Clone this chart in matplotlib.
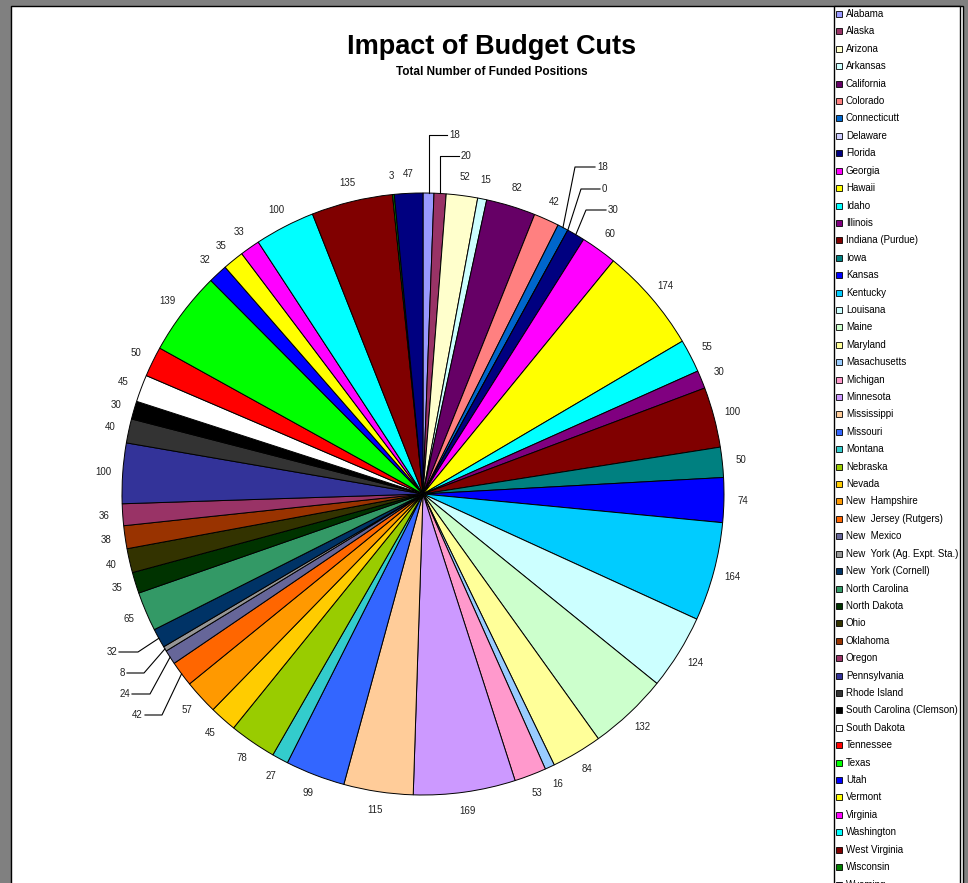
import numpy as np
import matplotlib
matplotlib.use('Agg')
import matplotlib.pyplot as plt
from matplotlib.patches import Rectangle

plt.rcParams['font.family'] = ['Liberation Sans', 'DejaVu Sans']

states = ['Alabama', 'Alaska', 'Arizona', 'Arkansas', 'California', 'Colorado',
          'Connecticutt', 'Delaware', 'Florida', 'Georgia', 'Hawaii', 'Idaho',
          'Illinois', 'Indiana (Purdue)', 'Iowa', 'Kansas', 'Kentucky', 'Louisana',
          'Maine', 'Maryland', 'Masachusetts', 'Michigan', 'Minnesota', 'Mississippi',
          'Missouri', 'Montana', 'Nebraska', 'Nevada', 'New  Hampshire',
          'New  Jersey (Rutgers)', 'New  Mexico', 'New  York (Ag. Expt. Sta.)',
          'New  York (Cornell)', 'North Carolina', 'North Dakota', 'Ohio', 'Oklahoma',
          'Oregon', 'Pennsylvania', 'Rhode Island', 'South Carolina (Clemson)',
          'South Dakota', 'Tennessee', 'Texas', 'Utah', 'Vermont', 'Virginia',
          'Washington', 'West Virginia', 'Wisconsin', 'Wyoming']

positions = [18, 20, 52, 15, 82, 42, 18, 0, 30, 60, 174, 55, 30, 100, 50, 74, 164,
             124, 132, 84, 16, 53, 169, 115, 99, 27, 78, 45, 57, 42, 24, 8, 32, 65,
             35, 40, 38, 36, 100, 40, 30, 45, 50, 139, 32, 35, 33, 100, 135, 3, 47]

colors = ['#9999FF', '#993366', '#FFFFCC', '#CCFFFF', '#660066', '#FF8080',
          '#0066CC', '#CCCCFF', '#000080', '#FF00FF', '#FFFF00', '#00FFFF',
          '#800080', '#800000', '#008080', '#0000FF', '#00CCFF', '#CCFFFF',
          '#CCFFCC', '#FFFF99', '#99CCFF', '#FF99CC', '#CC99FF', '#FFCC99',
          '#3366FF', '#33CCCC', '#99CC00', '#FFCC00', '#FF9900', '#FF6600',
          '#666699', '#969696', '#003366', '#339966', '#003300', '#333300',
          '#993300', '#993366', '#333399', '#333333', '#000000', '#FFFFFF',
          '#FF0000', '#00FF00', '#0000FF', '#FFFF00', '#FF00FF', '#00FFFF',
          '#800000', '#008000', '#000080']

# labels that Excel moved off the pie with a leader line: (elbow px, text px, side)
leaders = {
    'Alabama': ((None, 135), (447, 135), 'left'),
    'Alaska': ((None, 156), (459, 156), 'left'),
    'Connecticutt': ((575, 167), (595, 167), 'left'),
    'Delaware': ((581, 189), (600, 189), 'left'),
    'Florida': ((586, 210), (606, 210), 'left'),
    'New  York (Cornell)': ((138, 652), (119, 652), 'right'),
    'New  York (Ag. Expt. Sta.)': ((144, 673), (127, 673), 'right'),
    'New  Mexico': ((150, 694), (132, 694), 'right'),
    'New  Jersey (Rutgers)': ((162, 715), (145, 715), 'right'),
}

W, H = 968, 883
cx, cy, R = 423, 494, 301

fig = plt.figure(figsize=(W / 100, H / 100), dpi=100)
fig.patch.set_facecolor('#808080')

# background frame in pixel coordinates
bg = fig.add_axes([0, 0, 1, 1])
bg.set_xlim(0, W)
bg.set_ylim(H, 0)
bg.axis('off')
bg.add_patch(Rectangle((10.5, 5.5), 952, 900, facecolor='white', edgecolor='black', lw=1))

ax = fig.add_axes([0, 0, 1, 1])
ax.patch.set_visible(False)
wedges, _ = ax.pie(positions, colors=colors, startangle=90, counterclock=False,
                   radius=1, wedgeprops=dict(edgecolor='black', linewidth=0.7))
ax.set_aspect('auto')
ax.set_xlim(-cx / R, (W - cx) / R)
ax.set_ylim(-(H - cy) / R, cy / R)
ax.axis('off')


def to_data(px, py):
    return (px - cx) / R, (cy - py) / R


for name, w, v in zip(states, wedges, positions):
    mid = np.deg2rad((w.theta1 + w.theta2) / 2)
    if name in leaders:
        (ex, ey), (tx, ty), side = leaders[name]
        ax_, ay_ = np.cos(mid), np.sin(mid)
        ex_d = ax_ if ex is None else to_data(ex, 0)[0]
        ey_d = to_data(0, ey)[1]
        tx_d, ty_d = to_data(tx, ty)
        ax.plot([ax_, ex_d, tx_d], [ay_, ey_d, ty_d], color='black', lw=0.8)
        off = 2 / R if side == 'left' else -2 / R
        ax.text(tx_d + off, ty_d, str(v), ha=side, va='center', fontsize=7,
                color='#222222')
    else:
        r = 1.063
        ax.text(r * np.cos(mid), r * np.sin(mid), str(v), ha='center', va='center',
                fontsize=7, color='#222222')

fig.text(492 / W, 1 - 47 / H, 'Impact of Budget Cuts', ha='center', va='center',
         fontsize=19.5, fontweight='bold')
fig.text(492 / W, 1 - 72 / H, 'Total Number of Funded Positions', ha='center',
         va='center', fontsize=8.5, fontweight='bold')

# legend box (cut off at the bottom like the original)
bg.add_patch(Rectangle((833.5, 5.5), 126, 900, facecolor='white', edgecolor='black',
                       lw=1, zorder=3))
for i, (name, c) in enumerate(zip(states, colors)):
    y = 14 + 17.41 * i
    bg.add_patch(Rectangle((836, y - 3), 6, 6, facecolor=c, edgecolor='black',
                           lw=0.6, zorder=4))
    bg.text(846, y, name, ha='left', va='center', fontsize=7, zorder=4)

fig.savefig('out.png', dpi=100, facecolor=fig.get_facecolor())
